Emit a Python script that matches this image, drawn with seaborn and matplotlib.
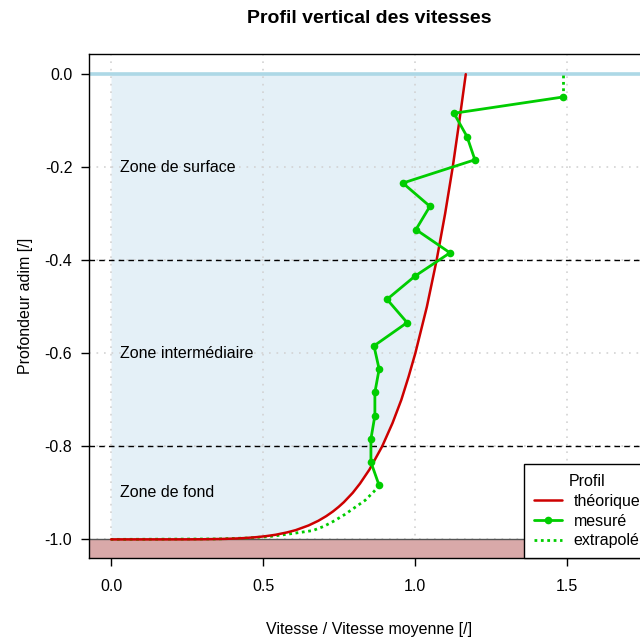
import matplotlib
matplotlib.use("Agg")
import matplotlib.pyplot as plt
import seaborn as sns
import pandas as pd
from matplotlib.lines import Line2D
from matplotlib.patches import Rectangle

# ---- data ----
theo_depth = [-1.0, -0.9999, -0.9997, -0.999, -0.998, -0.997, -0.995, -0.993, -0.99,
              -0.985, -0.98, -0.97, -0.96, -0.95, -0.94, -0.93, -0.92, -0.90, -0.88,
              -0.85, -0.80, -0.75, -0.70, -0.65, -0.60, -0.50, -0.40, -0.30, -0.20,
              -0.10, 0.0]
theo_speed = [0.0, 0.251, 0.302, 0.369, 0.414, 0.443, 0.482, 0.510, 0.542,
              0.579, 0.608, 0.650, 0.682, 0.708, 0.730, 0.749, 0.766, 0.795, 0.819,
              0.850, 0.892, 0.926, 0.955, 0.979, 1.001, 1.039, 1.071, 1.099, 1.124,
              1.146, 1.167]

meas_depth = [-0.049, -0.084, -0.134, -0.184, -0.234, -0.284, -0.334, -0.384, -0.434,
              -0.484, -0.534, -0.584, -0.634, -0.684, -0.734, -0.784, -0.834, -0.884]
meas_speed = [1.487, 1.128, 1.171, 1.197, 0.960, 1.049, 1.003, 1.115, 1.000,
              0.908, 0.974, 0.865, 0.882, 0.868, 0.868, 0.855, 0.855, 0.882]

ext_top_depth = [-0.049, 0.0]
ext_top_speed = [1.487, 1.487]
ext_bot_depth = [-0.884, -0.897, -0.916, -0.931, -0.946, -0.960, -0.972, -0.981,
                 -0.985, -0.989, -0.994, -0.997, -0.999, -1.0]
ext_bot_speed = [0.882, 0.865, 0.836, 0.803, 0.770, 0.735, 0.700, 0.664,
                 0.622, 0.579, 0.520, 0.450, 0.350, 0.0]

zone_labels = ["Zone de surface", "Zone intermédiaire", "Zone de fond"]
zone_y = [-0.2, -0.6, -0.9]
zone_limits = [-0.4, -0.8]
x_ticks = [0.0, 0.5, 1.0, 1.5]
y_ticks = [-1.0, -0.8, -0.6, -0.4, -0.2, 0.0]
legend_labels = ["théorique", "mesuré", "extrapolé"]

# ---- style ----
sns.set_style("white")
plt.rcParams["font.family"] = ["Liberation Sans", "DejaVu Sans"]
plt.rcParams["axes.unicode_minus"] = False
plt.rcParams["font.size"] = 11.5
plt.rcParams["text.color"] = "black"
plt.rcParams["axes.labelcolor"] = "black"
plt.rcParams["xtick.color"] = "black"
plt.rcParams["ytick.color"] = "black"

RED = "#CD0000"
GREEN = "#00CD00"
FILL = "#E4F0F7"
GRID = "#D3D3D3"

fig = plt.figure(figsize=(6.40, 6.39), dpi=100)
ax = fig.add_axes([89 / 640, (639 - 558) / 639, (650 - 89) / 640, (558 - 54) / 639])
ax.set_xlim(-0.0724, 1.773)
ax.set_ylim(-1.04, 0.0434)

# fill between x=0 and theoretical curve
ax.fill_betweenx(theo_depth, 0, theo_speed, color=FILL, lw=0, zorder=0)

# grid (dotted light gray)
for xv in x_ticks:
    ax.axvline(xv, color=GRID, lw=1.2, ls=(0, (1, 3.5)), zorder=1)
for yv in y_ticks:
    ax.axhline(yv, color=GRID, lw=1.2, ls=(0, (1, 3.5)), zorder=1)

# zone limits
for yv in zone_limits:
    ax.axhline(yv, color="black", lw=1.0, ls=(0, (4, 3)), zorder=2)

# water surface and bed
ax.axhline(0.0, color="#ADD8E6", lw=2.6, zorder=2)
ax.add_patch(Rectangle((-1, -1.2), 4, 0.2, facecolor="#D9A9A9", edgecolor="none", zorder=2))
ax.axhline(-1.0, color="#555555", lw=1.0, zorder=2)

# curves
df_theo = pd.DataFrame({"v": theo_speed, "z": theo_depth})
df_meas = pd.DataFrame({"v": meas_speed, "z": meas_depth})
df_top = pd.DataFrame({"v": ext_top_speed, "z": ext_top_depth})
df_bot = pd.DataFrame({"v": ext_bot_speed, "z": ext_bot_depth})

sns.lineplot(data=df_bot, x="v", y="z", sort=False, estimator=None, ax=ax,
             color=GREEN, lw=2.0, ls=(0, (1, 1.3)), zorder=4)
sns.lineplot(data=df_top, x="v", y="z", sort=False, estimator=None, ax=ax,
             color=GREEN, lw=2.0, ls=(0, (1, 1.3)), zorder=4)
sns.lineplot(data=df_theo, x="v", y="z", sort=False, estimator=None, ax=ax,
             color=RED, lw=1.8, zorder=5)
sns.lineplot(data=df_meas, x="v", y="z", sort=False, estimator=None, ax=ax,
             color=GREEN, lw=2.0, marker="o", markersize=5.5, markeredgewidth=0, zorder=6)

# zone labels
for lab, yv in zip(zone_labels, zone_y):
    ax.text(0.03, yv, lab, ha="left", va="center", fontsize=11.5, zorder=7)

# axes
ax.set_xticks(x_ticks)
ax.set_xticklabels([f"{v:.1f}" for v in x_ticks])
ax.set_yticks(y_ticks)
ax.set_yticklabels([f"{v:.1f}" for v in y_ticks])
ax.tick_params(axis="both", direction="out", length=6, width=1, color="black",
               labelsize=11.5, bottom=True, left=True)
ax.tick_params(axis="x", pad=9)
ax.tick_params(axis="y", pad=6)
for sp in ax.spines.values():
    sp.set_color("black")
    sp.set_linewidth(1.0)
    sp.set_zorder(10)
ax.set_xlabel("Vitesse / Vitesse moyenne [/]", fontsize=11.5, labelpad=20)
ax.set_ylabel("Profondeur adim [/]", fontsize=11.5, labelpad=8)
ax.set_title("Profil vertical des vitesses", fontsize=14, fontweight="bold", pad=22)

handles = [
    Line2D([], [], color=RED, lw=1.8),
    Line2D([], [], color=GREEN, lw=2.0, marker="o", markersize=5.5, markeredgewidth=0),
    Line2D([], [], color=GREEN, lw=2.0, ls=(0, (1, 1.3))),
]
leg = ax.legend(handles, legend_labels, title="Profil",
                loc="lower right", borderaxespad=0, fancybox=False, framealpha=1,
                edgecolor="black", fontsize=11.5, title_fontsize=11.5,
                handlelength=1.8, handletextpad=0.7, labelspacing=0.3, borderpad=0.6)
leg.get_frame().set_linewidth(1.0)
leg.set_zorder(20)

fig.savefig("out.png", dpi=100)
